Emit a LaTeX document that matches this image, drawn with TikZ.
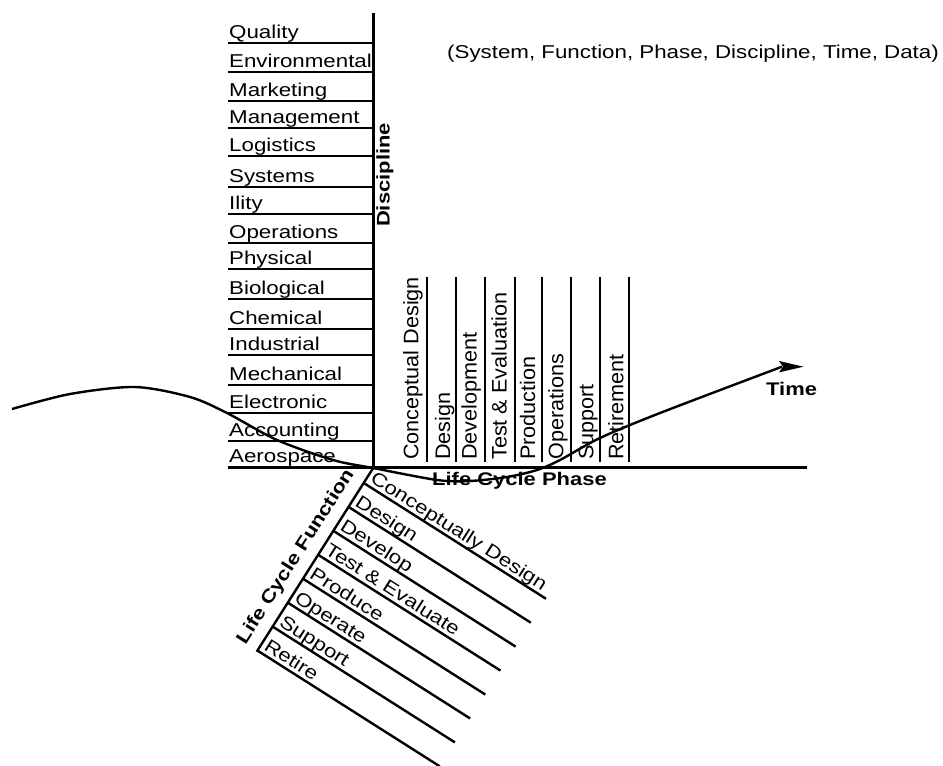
\documentclass[tikz,border=0pt]{standalone}
\usepackage{fontspec}
\setmainfont{Liberation Sans}
\newfontfamily\lblfont[FakeStretch=1.2]{Liberation Sans}
\newfontfamily\phfont[FakeStretch=1.03]{Liberation Sans}
\usetikzlibrary{calc}
\tikzset{
  ln/.style={line width=2.4pt, line cap=butt},
  lbl/.style={font=\lblfont\fontsize{18.6}{20}\selectfont, inner sep=0pt, anchor=base west},
  blbl/.style={font=\lblfont\bfseries\fontsize{18.3}{20}\selectfont, inner sep=0pt},
  phl/.style={font=\phfont\fontsize{21}{22}\selectfont, inner sep=0pt, anchor=base west, rotate=90},
  fnl/.style={lbl, rotate=-32.4},
}
\begin{document}
\begin{tikzpicture}[x=1pt,y=-1pt]
\useasboundingbox (0,0) rectangle (943,766);

% title
\node[lbl] (title) at (447,58) {(System, Function, Phase, Discipline, Time, Data)};

% main axes
\coordinate (O) at (373.5,467.5);
\coordinate (Dtop) at (373.5,13);
\coordinate (Hl) at (228,467.5);
\coordinate (Hr) at (807,467.5);
\coordinate (Fend) at (256.7,651.7);
\draw[ln] (Dtop) -- (O);
\draw[ln] (Hl) -- (Hr);
\draw[ln] (O) -- (Fend);

% discipline rows
\foreach \y/\t [count=\i] in {43/Quality, 72/Environmental, 101/Marketing, 128/Management,
  156/Logistics, 187/Systems, 214/Ility, 243/Operations, 269/Physical, 299/Biological,
  329/Chemical, 355/Industrial, 385/Mechanical, 413/Electronic, 441/Accounting} {
  \coordinate (dl\i) at (228,\y);
  \coordinate (dr\i) at (373.5,\y);
  \draw[ln] (dl\i) -- (dr\i);
  \node[lbl] (d\i) at (229,\y-5) {\t};
}
\node[lbl] (d16) at (229,462.5) {Aerospace};
\node[blbl, rotate=90] (disc) at (385,175) {Discipline};

% phase columns
\foreach \x/\bx/\t [count=\i] in {427/418.3/Conceptual Design, 456/450/Design,
  485/476.7/Development, 515/506.7/Test \& Evaluation, 542/535/Production,
  571/563.3/Operations, 600/593.3/Support, 629/623.3/Retirement} {
  \coordinate (pt\i) at (\x,277);
  \coordinate (pb\i) at (\x,462);
  \draw[ln] (pt\i) -- (pb\i);
  \node[phl] (p\i) at (\bx,460) {\t};
}
\node[blbl, anchor=base west] (lcp) at (432,485) {Life Cycle Phase};

% function rows
\foreach \t [count=\i from 0] in {Conceptually Design, Design, Develop, Test \& Evaluate,
  Produce, Operate, Support, Retire} {
  \pgfmathsetmacro\d{(18.3+28.33*\i)/218}
  \coordinate (fs\i) at ($(O)!\d!(Fend)$);
  \coordinate (fe\i) at ($(fs\i)+(182.3,115.8)$);
  \draw[ln] (fs\i) -- (fe\i);
  \node[fnl] (f\i) at ($(fs\i)+(5.5,-1.6)$) {\t};
}
\node[blbl, rotate=57.6] (lcf) at (296,557) {Life Cycle Function};

% time curve
\draw[ln] plot[smooth] coordinates {(12,409) (70,394) (135,387) (190,397) (227,413)
  (277,440) (333,460) (373,468) (437,480) (470,481) (507,477) (537,470) (560,460)
  (600,438) (660,413) (782,366.7)};
\coordinate (tip) at (803.5,366.7);
\fill (779,361) -- (tip) -- (779,372.4) -- (783,366.7) -- cycle;
\node[blbl, anchor=base west] (time) at (766,395) {Time};
\end{tikzpicture}
\end{document}
